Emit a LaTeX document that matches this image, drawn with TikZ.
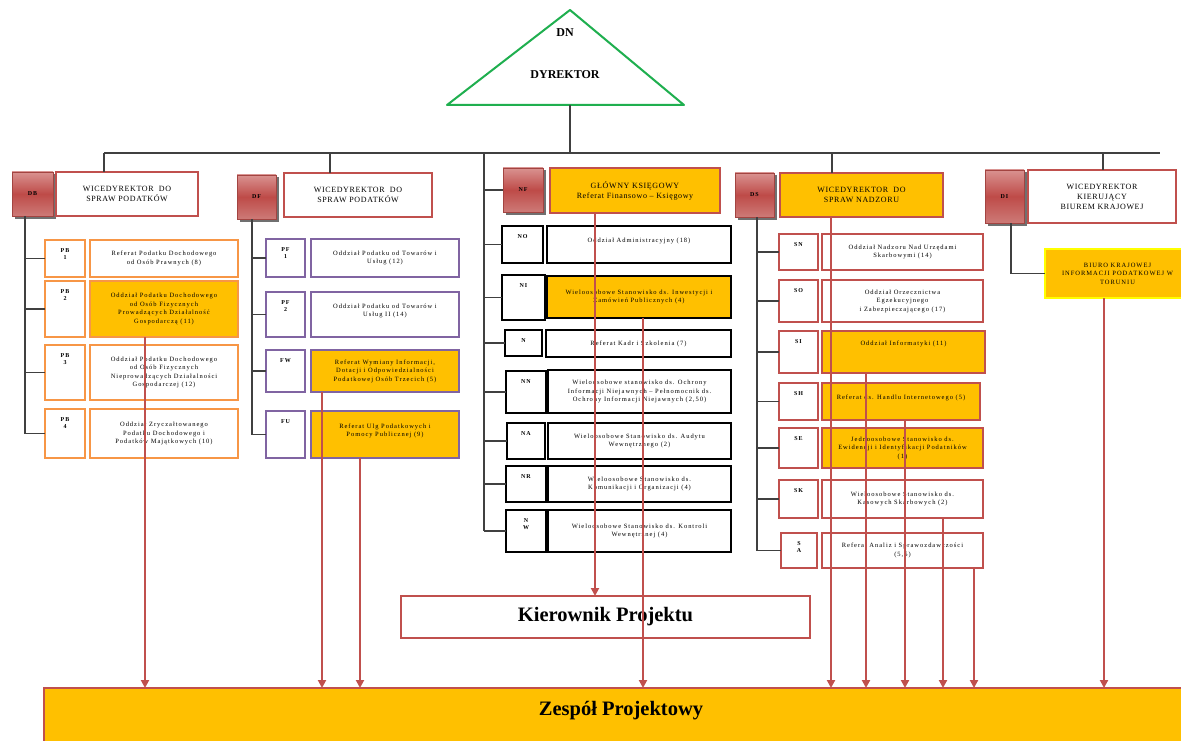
\documentclass[tikz,border=0pt]{standalone}
\usepackage{fontspec}
\setmainfont{Liberation Serif}
\newfontfamily\smallfam[LetterSpace=15]{Liberation Serif}
\newfontfamily\headfam[LetterSpace=8]{Liberation Serif}
\usetikzlibrary{arrows.meta,shadows,calc}

\definecolor{boxred}{HTML}{C0504D}
\definecolor{boxorange}{HTML}{FFC000}
\definecolor{lineorange}{HTML}{F79646}
\definecolor{boxpurple}{HTML}{8064A2}
\definecolor{trigreen}{HTML}{1FAF4F}
\definecolor{boxyellow}{HTML}{FFFF00}
\definecolor{codetop}{HTML}{D99290}
\definecolor{codemid}{HTML}{BE4B48}
\definecolor{codebot}{HTML}{CD7A77}

% box given by its corners (x1,y1) and (x2,y2), y growing downwards
\newcommand\bx[7]{\node[#2, minimum width={(#5-#3)*1pt}, minimum height={(#6-#4)*1pt}] (#1) at ({(#3+#5)/2},{(#4+#6)/2}) {#7};}
% small code box with its label set near the top edge
\newcommand\cbx[7]{\bx{#1}{#2}{#3}{#4}{#5}{#6}{}\node[codelbl, anchor=north] (#1t) at ([yshift=-8pt]#1.north) {#7};}

\begin{document}
\begin{tikzpicture}[x=1pt,y=-1pt,
  base/.style={rectangle, inner sep=1pt, outer sep=0pt, align=center, text=black},
  codebox/.style={base, draw=boxred!85!black, line width=0.6pt,
    top color=codetop, bottom color=codebot, middle color=codemid,
    drop shadow={shadow xshift=2.5pt, shadow yshift=-2.5pt, fill=black!70, opacity=0.8},
    font=\smallfam\bfseries\fontsize{6}{7}\selectfont},
  headbox/.style={base, draw=boxred, line width=1.6pt, fill=white,
    font=\headfam\fontsize{8}{10}\selectfont},
  sub/.style={base, fill=white, line width=1.7pt,
    font=\smallfam\fontsize{6.5}{8.5}\selectfont},
  obox/.style={sub, draw=lineorange},
  pbox/.style={sub, draw=boxpurple},
  kbox/.style={sub, draw=black, line width=2pt},
  rbox/.style={sub, draw=boxred},
  filled/.style={fill=boxorange},
  codelbl/.style={inner sep=0pt, align=center, font=\smallfam\bfseries\fontsize{6}{7.5}\selectfont},
  conn/.style={draw=black!75, line width=1.4pt},
  redarrow/.style={draw=boxred, line width=2.5pt, -{Triangle[width=8pt,length=8pt]}},
  bigtxt/.style={font=\bfseries\fontsize{20.5}{24}\selectfont}
]
\useasboundingbox (0,0) rectangle (1181,741);

% director
\draw[trigreen, line width=2pt, line join=round, fill=white] (570,10) -- (684,105) -- (447,105) -- cycle;
\node[font=\bfseries\fontsize{12}{14}\selectfont] (dn) at (565,33) {DN};
\node[font=\bfseries\fontsize{12}{14}\selectfont] (dyr) at (565,75) {DYREKTOR};
\coordinate (dnbase) at (570,105);

% column 1
\bx{cdb}{codebox}{12}{172}{53}{216}{DB}
\bx{vdb}{headbox}{56}{172}{198}{216}{WICEDYREKTOR~~DO\\SPRAW PODATKÓW}
\cbx{cpb1}{obox}{45}{240}{85}{277}{PB\\1}
\bx{pb1}{obox}{90}{240}{238}{277}{Referat Podatku Dochodowego\\od Osób Prawnych (8)}
\cbx{cpb2}{obox}{45}{281}{85}{337}{PB\\2}
\bx{pb2}{obox,filled}{90}{281}{238}{337}{Oddział Podatku Dochodowego\\od Osób Fizycznych\\Prowadzących Działalność\\Gospodarczą (11)}
\cbx{cpb3}{obox}{45}{345}{85}{400}{PB\\3}
\bx{pb3}{obox}{90}{345}{238}{400}{Oddział Podatku Dochodowego\\od Osób Fizycznych\\Nieprowadzących Działalności\\Gospodarczej (12)}
\cbx{cpb4}{obox}{45}{409}{85}{458}{PB\\4}
\bx{pb4}{obox}{90}{409}{238}{458}{Oddział Zryczałtowanego\\Podatku Dochodowego i\\Podatków Majątkowych (10)}

% column 2
\bx{cdf}{codebox}{237}{175}{276}{219}{DF}
\bx{vdf}{headbox}{284}{173}{432}{217}{WICEDYREKTOR~~DO\\SPRAW PODATKÓW}
\cbx{cpf1}{pbox}{266}{239}{305}{277}{PF\\1}
\bx{pf1}{pbox}{311}{239}{459}{277}{Oddział Podatku od Towarów i\\Usług (12)}
\cbx{cpf2}{pbox}{266}{292}{305}{337}{PF\\2}
\bx{pf2}{pbox}{311}{292}{459}{337}{Oddział Podatku od Towarów i\\Usług II (14)\\~}
\cbx{cfw}{pbox}{266}{350}{305}{392}{FW}
\bx{fw}{pbox,filled}{311}{350}{459}{392}{Referat Wymiany Informacji,\\Dotacji i Odpowiedzialności\\Podatkowej Osób Trzecich (5)}
\cbx{cfu}{pbox}{266}{411}{305}{458}{FU}
\bx{fu}{pbox,filled}{311}{411}{459}{458}{Referat Ulg Podatkowych i\\Pomocy Publicznej (9)\\~}

% column 3
\bx{cnf}{codebox}{503}{168}{543}{212}{NF}
\bx{nf}{headbox,filled}{550}{168}{720}{213}{GŁÓWNY KSIĘGOWY\\Referat Finansowo – Księgowy}
\cbx{cno}{kbox}{502}{226}{543}{263}{NO}
\bx{no}{kbox}{547}{226}{731}{263}{Oddział Administracyjny (18)\\~}
\cbx{cni}{kbox}{502}{275}{545}{320}{NI}
\bx{ni}{kbox,filled}{547}{276}{731}{318}{Wieloosobowe Stanowisko ds. Inwestycji i\\Zamówień Publicznych (4)}
\cbx{cn}{kbox}{505}{330}{542}{356}{N}
\bx{nk}{kbox}{546}{330}{731}{357}{Referat Kadr i Szkolenia (7)}
\cbx{cnn}{kbox}{506}{371}{546}{413}{NN}
\bx{nn}{kbox}{548}{370}{731}{413}{Wieloosobowe stanowisko ds. Ochrony\\Informacji Niejawnych – Pełnomocnik ds.\\Ochrony Informacji Niejawnych (2,50)}
\cbx{cna}{kbox}{507}{423}{545}{459}{NA}
\bx{na}{kbox}{548}{423}{731}{459}{Wieloosobowe Stanowisko ds. Audytu\\Wewnętrznego (2)}
\cbx{cnr}{kbox}{506}{466}{546}{502}{NR}
\bx{nr}{kbox}{548}{466}{731}{502}{Wieloosobowe Stanowisko ds.\\Komunikacji i Organizacji (4)}
\cbx{cnw}{kbox}{506}{510}{546}{552}{N\\W}
\bx{nw}{kbox}{548}{510}{731}{552}{Wieloosobowe Stanowisko ds. Kontroli\\Wewnętrznej (4)}

% column 4
\bx{cds}{codebox}{735}{173}{774}{217}{DS}
\bx{vds}{headbox,filled}{780}{173}{943}{217}{WICEDYREKTOR~~DO\\SPRAW NADZORU}
\cbx{csn}{rbox}{779}{234}{818}{270}{SN}
\bx{sn}{rbox}{822}{234}{983}{270}{Oddział Nadzoru Nad Urzędami\\Skarbowymi (14)}
\cbx{cso}{rbox}{779}{280}{818}{322}{SO}
\bx{so}{rbox}{822}{280}{983}{322}{Oddział Orzecznictwa\\Egzekucyjnego\\i Zabezpieczającego (17)}
\cbx{csi}{rbox}{779}{331}{818}{373}{SI}
\bx{si}{rbox,filled}{822}{331}{985}{373}{Oddział Informatyki (11)\\~\\~}
\cbx{csh}{rbox}{779}{383}{818}{420}{SH}
\bx{sh}{rbox,filled}{822}{383}{980}{420}{Referat ds. Handlu Internetowego (5)\\~}
\cbx{cse}{rbox}{779}{428}{818}{468}{SE}
\bx{se}{rbox,filled}{822}{428}{983}{468}{Jednoosobowe Stanowisko ds.\\Ewidencji i Identyfikacji Podatników\\(1)}
\cbx{csk}{rbox}{779}{480}{818}{518}{SK}
\bx{sk}{rbox}{822}{480}{983}{518}{Wieloosobowe Stanowisko ds.\\Kasowych Skarbowych (2)}
\cbx{csa}{rbox}{781}{533}{817}{568}{S\\A}
\bx{sa}{rbox}{822}{533}{983}{568}{Referat Analiz i Sprawozdawczości\\(5,5)}

% column 5
\bx{cdi}{codebox}{985}{170}{1024}{223}{DI}
\bx{vdi}{headbox}{1028}{170}{1176}{223}{WICEDYREKTOR\\KIERUJĄCY\\BIUREM KRAJOWEJ}
\bx{bk}{sub,draw=boxyellow,filled}{1045}{249}{1190}{298}{BIURO KRAJOWEJ\\INFORMACJI PODATKOWEJ W\\TORUNIU}

% project boxes
\bx{kp}{base,draw=boxred,line width=2.5pt,fill=white,bigtxt}{401}{596}{810}{638}{Kierownik Projektu}
\bx{zp}{base,draw=boxred,line width=2.5pt,fill=boxorange}{44}{688}{1200}{760}{}
\node[bigtxt] (zpt) at (621,711) {Zespół Projektowy};

% reporting lines
\coordinate (busL) at (104,153);
\coordinate (busR) at (1160,153);
\coordinate (col3) at (484,153);
\draw[conn] (dnbase) -- (dnbase |- busL);
\draw[conn] (busL) -- (busR);
\draw[conn] (busL) -- (busL |- vdb.north);
\coordinate (d2) at (330,153);
\draw[conn] (d2) -- (d2 |- vdf.north);
\coordinate (d4) at (832,153);
\draw[conn] (d4) -- (d4 |- vds.north);
\coordinate (d5) at (1103,153);
\draw[conn] (d5) -- (d5 |- vdi.north);

\coordinate (v1) at ([xshift=-7.5pt]cdb.south);
\draw[conn] (v1) -- (v1 |- cpb4.west);
\foreach \c in {cpb1,cpb2,cpb3,cpb4} \draw[conn] (v1 |- \c.west) -- (\c.west);

\coordinate (v2) at ([xshift=-4.5pt]cdf.south);
\draw[conn] (v2) -- (v2 |- cfu.west);
\foreach \c in {cpf1,cpf2,cfw,cfu} \draw[conn] (v2 |- \c.west) -- (\c.west);

\draw[conn] (col3) -- (col3 |- cnw.west);
\foreach \c in {cnf,cno,cni,cn,cnn,cna,cnr,cnw} \draw[conn] (col3 |- \c.west) -- (\c.west);

\coordinate (v4) at ([xshift=2.5pt]cds.south);
\draw[conn] (v4) -- (v4 |- csa.west);
\foreach \c in {csn,cso,csi,csh,cse,csk,csa} \draw[conn] (v4 |- \c.west) -- (\c.west);

\coordinate (v5) at ([xshift=6.5pt]cdi.south);
\draw[conn] (v5) -- (v5 |- bk.west) -- (bk.west);

% project staff lines
\coordinate (a1) at ([xshift=55pt]pb2.south west);
\coordinate (a2) at ([xshift=11pt]fw.south west);
\coordinate (a3) at ([xshift=49pt]fu.south west);
\coordinate (a4) at ([xshift=45pt]nf.south west);
\coordinate (a5) at ([xshift=96pt]ni.south west);
\coordinate (a6) at ([xshift=51pt]vds.south west);
\coordinate (a7) at ([xshift=44pt]si.south west);
\coordinate (a8) at ([xshift=83pt]sh.south west);
\coordinate (a9) at ([xshift=121pt]sk.south west);
\coordinate (a10) at ([xshift=152pt]sa.south west);
\coordinate (a11) at ([xshift=59pt]bk.south west);
\draw[redarrow] (a4) -- (a4 |- kp.north);
\foreach \a in {a1,a2,a3,a5,a6,a7,a8,a9,a10,a11}
  \draw[redarrow] (\a) -- (\a |- zp.north);
\end{tikzpicture}
\end{document}
